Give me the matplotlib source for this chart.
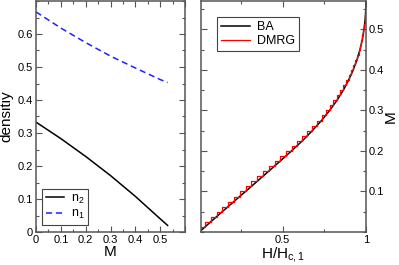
import matplotlib
matplotlib.use("Agg")
import matplotlib.pyplot as plt
from matplotlib.ticker import MultipleLocator, FixedLocator, FuncFormatter

plt.rcParams['font.family'] = ['Liberation Sans', 'DejaVu Sans']
plt.rcParams['mathtext.fontset'] = 'custom'
plt.rcParams['mathtext.rm'] = 'Liberation Sans'
plt.rcParams['mathtext.default'] = 'regular'

# ---- left panel data: densities vs M ----
M_left = [0.0, 0.1, 0.2, 0.3, 0.4, 0.5, 0.53]
n2 = [0.333, 0.283, 0.229, 0.171, 0.108, 0.040, 0.020]
n1 = [0.667, 0.618, 0.574, 0.533, 0.497, 0.462, 0.453]

# ---- right panel data: M vs H/Hc1 ----
ba_M = [0, 0.025, 0.05, 0.075, 0.1, 0.125, 0.15, 0.175, 0.2, 0.225, 0.25, 0.275,
        0.3, 0.325, 0.35, 0.375, 0.4, 0.425, 0.45, 0.475, 0.5, 0.525, 0.55, 0.57]
ba_h = [0, 0.068, 0.137, 0.207, 0.277, 0.347, 0.416, 0.485, 0.553, 0.618, 0.678, 0.733,
        0.782, 0.826, 0.864, 0.896, 0.923, 0.946, 0.964, 0.978, 0.988, 0.995, 0.999, 1.0]

dmrg_h = [0.0, 0.034, 0.068, 0.103, 0.137, 0.172, 0.207, 0.242, 0.277, 0.312, 0.347,
          0.382, 0.416, 0.451, 0.485, 0.519, 0.553, 0.586, 0.618, 0.648, 0.678, 0.706,
          0.733, 0.758, 0.782, 0.804, 0.826, 0.845, 0.864, 0.880, 0.896, 0.910, 0.923,
          0.935, 0.946, 0.955, 0.964, 0.971, 0.978, 0.983, 0.988, 0.992, 0.995, 0.997,
          0.999, 1.0]
dmrg_M = [0.0, 0.0125, 0.025, 0.0375, 0.05, 0.0625, 0.075, 0.0875, 0.1, 0.1125, 0.125,
          0.1375, 0.15, 0.1625, 0.175, 0.1875, 0.2, 0.2125, 0.225, 0.2375, 0.25, 0.2625,
          0.275, 0.2875, 0.3, 0.3125, 0.325, 0.3375, 0.35, 0.3625, 0.375, 0.3875, 0.4,
          0.4125, 0.425, 0.4375, 0.45, 0.4625, 0.475, 0.4875, 0.5, 0.5125, 0.525, 0.5375,
          0.55, 0.5625]

left_xticks = [0, 0.1, 0.2, 0.3, 0.4, 0.5]
left_yticks = [0, 0.1, 0.2, 0.3, 0.4, 0.5, 0.6]
right_xticks = [0.5, 1.0]
right_yticks = [0.1, 0.2, 0.3, 0.4, 0.5]

W, H = 399, 265
fig = plt.figure(figsize=(W / 100, H / 100), dpi=100)

def frac(x0, y0, x1, y1):
    return [x0 / W, 1 - y1 / H, (x1 - x0) / W, (y1 - y0) / H]

spine_col = '#555555'

def fmt(v, pos):
    if abs(v) < 1e-9:
        return '0'
    if abs(v - round(v)) < 1e-9:
        return '%d' % round(v)
    return ('%.1f' % v)

def style(ax):
    for s in ax.spines.values():
        s.set_color(spine_col)
        s.set_linewidth(1.1)
    ax.tick_params(which='both', direction='in', top=True, right=True,
                   color=spine_col, labelsize=8, pad=2)
    ax.tick_params(which='major', length=4, width=0.8)
    ax.tick_params(which='minor', length=2.2, width=0.8)

# left panel
ax1 = fig.add_axes(frac(36, 1, 185, 232))
ax1.plot(M_left, n2, color='black', lw=1.1, label='n$_2$')
ax1.plot(M_left, n1, color='#1f1fff', lw=1.1, ls=(0, (4, 2.5)), label='n$_1$')
ax1.set_xlim(0, 0.6)
ax1.set_ylim(0, 0.7)
ax1.xaxis.set_major_locator(FixedLocator(left_xticks + [0.6]))
ax1.xaxis.set_major_formatter(FuncFormatter(lambda v, p: '' if v > 0.55 else fmt(v, p)))
ax1.xaxis.set_minor_locator(MultipleLocator(0.05))
ax1.yaxis.set_major_locator(FixedLocator(left_yticks))
ax1.yaxis.set_major_formatter(FuncFormatter(fmt))
ax1.yaxis.set_minor_locator(MultipleLocator(0.05))
style(ax1)
ax1.set_xlabel('M', fontsize=11, labelpad=0)
ax1.set_ylabel('densitiy', fontsize=11, labelpad=3)
leg1 = ax1.legend(loc='lower left', bbox_to_anchor=(0.04, 0.03), borderaxespad=0,
                  fontsize=9, handlelength=1.5, handletextpad=0.5, borderpad=0.3,
                  labelspacing=0.2, fancybox=False, framealpha=1)
leg1.get_frame().set_edgecolor('#444444')
leg1.get_frame().set_linewidth(0.8)

# right panel
ax2 = fig.add_axes(frac(201, 1, 366, 232))
ax2.plot(ba_h, ba_M, color='black', lw=1.1, label='BA')
ax2.step(dmrg_h, dmrg_M, where='pre', color='#ff0000', lw=0.9, label='DMRG')
ax2.set_xlim(0.01, 1.0)
ax2.set_ylim(0, 0.57)
ax2.xaxis.set_major_locator(FixedLocator(right_xticks))
ax2.xaxis.set_major_formatter(FuncFormatter(fmt))
ax2.xaxis.set_minor_locator(FixedLocator([0.25, 0.75]))
ax2.yaxis.set_major_locator(FixedLocator(right_yticks))
ax2.yaxis.set_major_formatter(FuncFormatter(fmt))
ax2.yaxis.set_minor_locator(MultipleLocator(0.05))
style(ax2)
ax2.tick_params(which='both', left=True, labelleft=False, right=True, labelright=True)
ax2.yaxis.set_label_position('right')
ax2.set_ylabel('M', fontsize=11, labelpad=0)
ax2.set_xlabel('H/H$_{c,1}$', fontsize=11, labelpad=0)
leg2 = ax2.legend(loc='upper left', bbox_to_anchor=(0.097, 0.93), borderaxespad=0,
                  fontsize=9, handlelength=2.3, handletextpad=0.6, borderpad=0.3,
                  labelspacing=0.2, fancybox=False, framealpha=1)
leg2.get_frame().set_edgecolor('#444444')
leg2.get_frame().set_linewidth(0.8)

fig.savefig('out.png', dpi=100)
